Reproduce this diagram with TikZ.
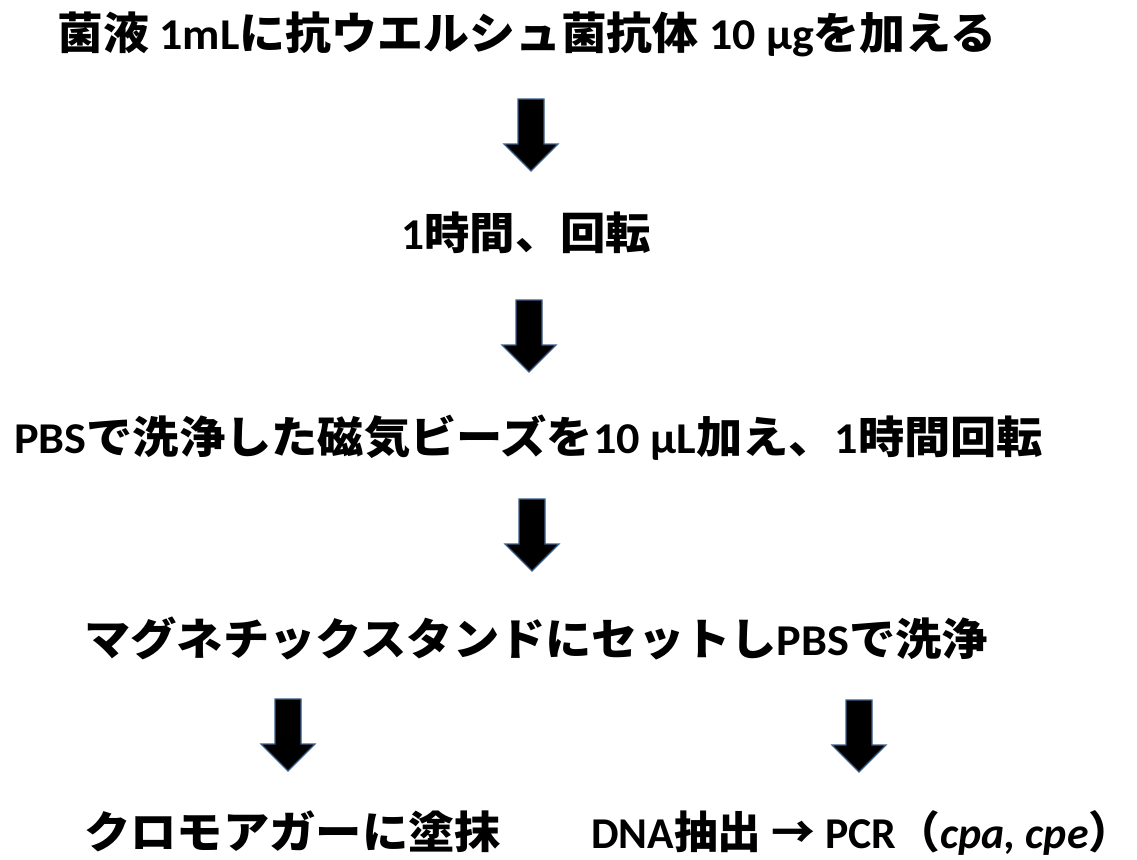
\documentclass[tikz,border=0pt]{standalone}
\usepackage{fontspec}
\usepackage{graphicx}
\setmainfont{Noto Sans CJK JP}
\newfontfamily\lat{Carlito}
\definecolor{arrowedge}{RGB}{60,95,140}
\newcommand\fitw[2]{\resizebox{#1pt}{\height}{#2}}
\tikzset{
  txt/.style={anchor=base west, inner sep=0pt, font=\fontsize{44}{50}\selectfont\bfseries},
  blockarrow/.pic={
    \fill[black, draw=arrowedge, line width=1.2pt, line join=miter]
      (-13,0) -- (13,0) -- (13,45) -- (27,45) -- (0,72) -- (-27,45) -- (-13,45) -- cycle;
  }
}
\begin{document}
\begin{tikzpicture}[x=1pt, y=-1pt]
\useasboundingbox (0,0) rectangle (1137,859);
\node[txt] (l1) at (57,50) {\fitw{939}{菌液 {\lat\bfseries 1mL}に抗ウエルシュ菌抗体 {\lat\bfseries 10 μg}を加える}};
\node[txt] (l2) at (401,249) {\fitw{250}{{\lat\bfseries 1}時間、回転}};
\node[txt] (l3) at (14,453) {\fitw{1029}{{\lat\bfseries PBS}で洗浄した磁気ビーズを{\lat\bfseries 10 μL}加え、{\lat\bfseries 1}時間回転}};
\node[txt] (l4) at (84,655) {\fitw{904}{マグネチックスタンドにセットし{\lat\bfseries PBS}で洗浄}};
\node[txt] (l5a) at (84,848) {\fitw{417}{クロモアガーに塗抹}};
\node[txt] (l5b) at (591,848) {\fitw{541}{{\lat\bfseries DNA}抽出 → {\lat\bfseries PCR}（{\lat\bfseries\itshape cpa, cpe}）}};
\coordinate (a1) at (531,99);
\coordinate (a2) at (529,300);
\coordinate (a3) at (532,499);
\coordinate (a4) at (288,699);
\coordinate (a5) at (859,700);
\pic at (a1) {blockarrow};
\pic at (a2) {blockarrow};
\pic at (a3) {blockarrow};
\pic at (a4) {blockarrow};
\pic at (a5) {blockarrow};
\end{tikzpicture}
\end{document}
